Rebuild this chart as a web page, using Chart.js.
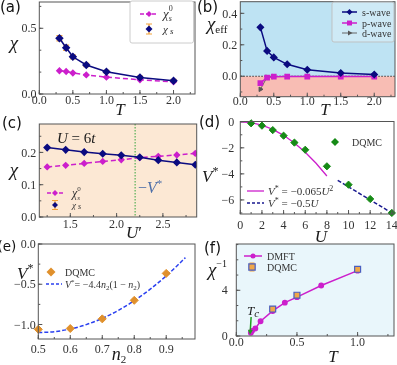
<!DOCTYPE html>
<html><head><meta charset="utf-8">
<script src="https://cdn.jsdelivr.net/npm/chart.js@4.4.1/dist/chart.umd.min.js"></script>
<style>
html,body{margin:0;padding:0;background:#fff;}
body{width:397px;height:365px;position:relative;overflow:hidden;}
canvas{position:absolute;left:0;top:0;width:397px;height:365px;}
</style></head><body>
<canvas id="pa" width="397" height="365"></canvas>
<canvas id="pb" width="397" height="365"></canvas>
<canvas id="pc" width="397" height="365"></canvas>
<canvas id="pd" width="397" height="365"></canvas>
<canvas id="pe" width="397" height="365"></canvas>
<canvas id="pf" width="397" height="365"></canvas>
<canvas id="ov" width="397" height="365"></canvas>
<script>
// ---------------- data ----------------
// (a)
const T_A = [0.3, 0.4, 0.5, 0.7, 1.0, 1.5, 2.0];
const CHI_S_A = [0.424, 0.352, 0.283, 0.221, 0.170, 0.126, 0.101];
const CHI_S_ERR_A = [0.02, 0.02, 0.015, 0.012, 0.01, 0.01, 0.01];
const CHI_S0_A = [0.177, 0.171, 0.160, 0.145, 0.128, 0.108, 0.093];
const X_TICKS_A = [0, 0.5, 1, 1.5, 2];
const Y_TICKS_A = [0, 0.5];
// (b)
const T_B = [0.3, 0.4, 0.5, 0.7, 1.0, 1.5, 2.0];
const S_WAVE_B = [0.311, 0.161, 0.120, 0.076, 0.041, 0.021, 0.011];
const P_WAVE_B = [-0.044, -0.008, -0.003, -0.002, -0.002, -0.002, -0.002];
const D_WAVE_B = [-0.083, -0.006, -0.002, -0.001, -0.001, -0.001, -0.001];
const X_TICKS_B = [0, 0.5, 1, 1.5, 2];
const Y_TICKS_B = [0, 0.2, 0.4];
// (c)
const UP_C = [1.25, 1.45, 1.65, 1.85, 2.05, 2.25, 2.45, 2.65, 2.85];
const CHI_S_C = [0.215, 0.208, 0.201, 0.196, 0.191, 0.185, 0.176, 0.169, 0.162];
const CHI_S0_C = [0.155, 0.160, 0.166, 0.172, 0.177, 0.184, 0.188, 0.192, 0.197];
const UP_MARK_C = 2.2;
const X_TICKS_C = [1.5, 2.0, 2.5];
const Y_TICKS_C = [0, 0.1, 0.2];
// (d)
const U_D = [1, 2, 3, 4, 5, 6, 8, 10, 12, 14];
const V_D = [-0.12, -0.30, -0.64, -1.07, -1.60, -2.15, -3.42, -4.83, -5.93, -7.0];
const U_FITQ_D = [0, 1, 2, 3, 4, 5, 6, 7, 8];
const V_FITQ_D = [0, -0.065, -0.26, -0.585, -1.04, -1.625, -2.34, -3.185, -4.16];
const U_FITL_D = [9, 14];
const V_FITL_D = [-4.5, -7.0];
const X_TICKS_D = [0, 2, 4, 6, 8, 10, 12, 14];
const Y_TICKS_D = [0, -2, -4, -6];
// (e)
const N2_E = [0.5, 0.6, 0.7, 0.8, 0.9];
const V_E = [-1.06, -1.05, -0.93, -0.70, -0.365];
const N2_FIT_E = [0.5, 0.55, 0.6, 0.65, 0.7, 0.75, 0.8, 0.85, 0.9, 0.93, 0.96];
const V_FIT_E = [-1.1, -1.089, -1.056, -1.001, -0.924, -0.825, -0.704, -0.561, -0.396, -0.286, -0.169];
const X_TICKS_E = [0.5, 0.6, 0.7, 0.8, 0.9];
const Y_TICKS_E = [0, -0.5, -1.0];
// (f)
const T_DMFT_F = [0.12, 0.13, 0.157, 0.2, 0.3, 0.4, 0.5, 0.7, 1.0];
const INV_DMFT_F = [0.29, 0.45, 0.66, 1.29, 2.19, 2.92, 3.40, 4.42, 5.72];
const T_DQMC_F = [0.3, 0.5, 1.0];
const INV_DQMC_F = [2.36, 3.57, 5.84];
const ERR_DQMC_F = [0.12, 0.12, 0.12];
const X_TICKS_F = [0, 0.5, 1.0];
const Y_TICKS_F = [0, 4];

// ---------------- style ----------------
const W = 397, H = 365, YW = 30, XH = 16;
const SERIF = "'Liberation Serif', 'DejaVu Serif', serif";
const NAVY = '#0b0b80', MAG = '#cc1fcc', ORANGE = '#f2a23a', GREEN = '#168a16';
const DQ_OR = '#e0902c', BLUE = '#2a40f0';
const minus = s => String(s).replace('-', '\u2212');
const xy = (xs, ys) => xs.map((x, i) => ({x, y: ys[i]}));
const OV = document.getElementById('ov').getContext('2d');
const PENDING = [];

function rich(ctx, x, y, parts, align, color) {
  let w = 0;
  const fm = parts.map(p => {
    const f = (p[2] ? 'italic ' : '') + p[1] + 'px ' + (p[5] || SERIF);
    ctx.font = f;
    const m = ctx.measureText(p[0]).width;
    if (!p[4]) w += m;
    return [f, m];
  });
  let cx = align === 'center' ? x - w / 2 : align === 'right' ? x - w : x;
  ctx.textAlign = 'left'; ctx.textBaseline = 'alphabetic';
  ctx.fillStyle = color || '#1a1a1a';
  parts.forEach((p, i) => {
    ctx.font = fm[i][0];
    ctx.fillText(p[0], cx, y + (p[3] || 0));
    if (!p[4]) cx += fm[i][1];
  });
}
function marker(ctx, m, x, y) {
  const r = m.r;
  ctx.beginPath();
  if (m.style === 'rectRot') { ctx.moveTo(x, y - r); ctx.lineTo(x + r, y); ctx.lineTo(x, y + r); ctx.lineTo(x - r, y); ctx.closePath(); }
  else if (m.style === 'rect') { const s = r * Math.SQRT1_2; ctx.rect(x - s, y - s, 2 * s, 2 * s); }
  else if (m.style === 'circle') { ctx.arc(x, y, r, 0, Math.PI * 2); }
  else if (m.style === 'tri') { ctx.moveTo(x + r, y); ctx.lineTo(x - r * 0.5, y - r * 0.87); ctx.lineTo(x - r * 0.5, y + r * 0.87); ctx.closePath(); }
  ctx.fillStyle = m.fill; ctx.fill();
  if (m.stroke) { ctx.strokeStyle = m.stroke; ctx.lineWidth = m.bw || 1; ctx.stroke(); }
}
function errbar(ctx, x, y1, y2, cap, color) {
  ctx.strokeStyle = color; ctx.lineWidth = 1.2; ctx.setLineDash([]);
  ctx.beginPath();
  ctx.moveTo(x, y1); ctx.lineTo(x, y2);
  ctx.moveTo(x - cap, y1); ctx.lineTo(x + cap, y1);
  ctx.moveTo(x - cap, y2); ctx.lineTo(x + cap, y2);
  ctx.stroke();
}

const decoPlugin = {
  id: 'deco',
  beforeDatasetsDraw(chart, args, o) {
    const {ctx, chartArea: a} = chart, sx = chart.scales.x, sy = chart.scales.y;
    ctx.save();
    if (o.bg) { ctx.fillStyle = o.bg; ctx.fillRect(a.left, a.top, a.width, a.height); }
    (o.bands || []).forEach(b => {
      const y1 = Math.max(a.top, Math.min(a.bottom, sy.getPixelForValue(b.to)));
      const y2 = Math.max(a.top, Math.min(a.bottom, sy.getPixelForValue(b.from)));
      ctx.fillStyle = b.color; ctx.fillRect(a.left, y1, a.width, y2 - y1);
    });
    (o.hlines || []).forEach(h => {
      const y = sy.getPixelForValue(h.v);
      ctx.strokeStyle = h.color; ctx.lineWidth = h.w; ctx.setLineDash(h.dash || []);
      ctx.beginPath(); ctx.moveTo(a.left, y); ctx.lineTo(a.right, y); ctx.stroke();
    });
    (o.vlines || []).forEach(h => {
      const x = sx.getPixelForValue(h.v);
      ctx.strokeStyle = h.color; ctx.lineWidth = h.w; ctx.setLineDash(h.dash || []);
      ctx.beginPath(); ctx.moveTo(x, a.top); ctx.lineTo(x, a.bottom); ctx.stroke();
    });
    ctx.setLineDash([]);
    chart.data.datasets.forEach((ds, i) => {
      if (!ds.err) return;
      const meta = chart.getDatasetMeta(i);
      meta.data.forEach((pt, j) => {
        const v = ds.data[j].y, e = ds.err[j];
        errbar(ctx, pt.x, sy.getPixelForValue(v + e), sy.getPixelForValue(v - e), ds.cap || 3, ds.errColor);
      });
    });
    ctx.restore();
  },
  afterDatasetsDraw(chart, args, o) {
    const {ctx, chartArea: a} = chart, sx = chart.scales.x, sy = chart.scales.y;
    ctx.save();
    ctx.setLineDash([]);
    ctx.strokeStyle = '#555'; ctx.lineWidth = 1;
    ctx.strokeRect(a.left, a.top, a.width, a.height);
    ctx.beginPath();
    sx.ticks.forEach(t => { const x = sx.getPixelForValue(t.value); ctx.moveTo(x, a.bottom); ctx.lineTo(x, a.bottom - 4); });
    sy.ticks.forEach(t => { const y = sy.getPixelForValue(t.value); ctx.moveTo(a.left, y); ctx.lineTo(a.left + 4, y); });
    if (o.mx) for (let v = Math.ceil(sx.min / o.mx) * o.mx; v <= sx.max; v += o.mx) { const x = sx.getPixelForValue(v); ctx.moveTo(x, a.bottom); ctx.lineTo(x, a.bottom - 2); }
    if (o.my) for (let v = Math.ceil(sy.min / o.my) * o.my; v <= sy.max; v += o.my) { const y = sy.getPixelForValue(v); ctx.moveTo(a.left, y); ctx.lineTo(a.left + 2, y); }
    ctx.stroke();
    if (o.box) {
      const b = o.box;
      ctx.fillStyle = b.fill; ctx.strokeStyle = b.stroke; ctx.lineWidth = 1;
      ctx.beginPath();
      if (ctx.roundRect) ctx.roundRect(b.x, b.y, b.w, b.h, 2); else ctx.rect(b.x, b.y, b.w, b.h);
      ctx.fill(); ctx.stroke();
    }
    (o.items || []).forEach(it => {
      if (it.x1 !== undefined) {
        ctx.strokeStyle = it.color; ctx.lineWidth = it.width || 1.5; ctx.setLineDash(it.dash || []);
        ctx.beginPath(); ctx.moveTo(it.x1, it.y); ctx.lineTo(it.x2, it.y); ctx.stroke();
        ctx.setLineDash([]);
      }
      const mx = it.x1 !== undefined ? (it.x1 + it.x2) / 2 : it.x;
      if (it.err) errbar(ctx, mx, it.y - it.err.len, it.y + it.err.len, it.err.cap, it.err.color);
      if (it.m) marker(ctx, it.m, mx, it.y);
      if (it.text) rich(ctx, it.text.x, it.text.y, it.text.parts, 'left', it.text.color || '#333');
    });
    (o.arrows || []).forEach(ar => {
      const x1 = sx.getPixelForValue(ar.from[0]), y1 = sy.getPixelForValue(ar.from[1]);
      const x2 = sx.getPixelForValue(ar.to[0]), y2 = sy.getPixelForValue(ar.to[1]);
      const ang = Math.atan2(y2 - y1, x2 - x1), hl = 5;
      ctx.strokeStyle = ar.color; ctx.fillStyle = ar.color; ctx.lineWidth = 1.5;
      ctx.beginPath(); ctx.moveTo(x1, y1); ctx.lineTo(x2 - hl * Math.cos(ang), y2 - hl * Math.sin(ang)); ctx.stroke();
      ctx.beginPath(); ctx.moveTo(x2, y2);
      ctx.lineTo(x2 - hl * Math.cos(ang) + 2.5 * Math.sin(ang), y2 - hl * Math.sin(ang) - 2.5 * Math.cos(ang));
      ctx.lineTo(x2 - hl * Math.cos(ang) - 2.5 * Math.sin(ang), y2 - hl * Math.sin(ang) + 2.5 * Math.cos(ang));
      ctx.closePath(); ctx.fill();
    });
    ctx.restore();
  }
};

function axis(s, dir) {
  return {
    type: 'linear', min: s.min, max: s.max,
    grid: {display: false, drawTicks: false},
    border: {display: false},
    ticks: {display: false, autoSkip: false},
    afterBuildTicks: sc => { sc.ticks = s.ticks.map(v => ({value: v})); },
    afterFit: sc => {
      if (dir === 'x') sc.height = XH; else sc.width = YW;
      sc.paddingLeft = 0; sc.paddingRight = 0; sc.paddingTop = 0; sc.paddingBottom = 0;
    }
  };
}
// tick labels and axis texts: drawn on the top overlay from each chart's own scales
function finish(chart, xs, ys, texts) {
  const a = chart.chartArea, sx = chart.scales.x, sy = chart.scales.y;
  OV.save();
  OV.fillStyle = '#333'; OV.font = '12px ' + SERIF; OV.textBaseline = 'alphabetic';
  OV.textAlign = 'center';
  sx.ticks.forEach(t => OV.fillText(xs.fmt(t.value), sx.getPixelForValue(t.value), xs.lab));
  OV.textAlign = 'right';
  sy.ticks.forEach(t => OV.fillText(ys.fmt(t.value), a.left - ys.gap, sy.getPixelForValue(t.value) + 4.2));
  texts.forEach(t => rich(OV, t.x, t.y, t.parts, t.align, t.color));
  OV.restore();
}
function panel(id, area, xs, ys, datasets, deco, texts) {
  const ch = new Chart(document.getElementById(id), {
    type: 'scatter',
    data: {datasets},
    options: {
      responsive: false, animation: false, devicePixelRatio: 1,
      layout: {autoPadding: false, padding: {left: area.l - YW, top: area.t, right: W - area.r, bottom: H - area.b - XH}},
      plugins: {legend: {display: false}, tooltip: {enabled: false}, deco},
      scales: {x: axis(xs, 'x'), y: axis(ys, 'y')},
      elements: {line: {tension: 0}, point: {borderWidth: 1}}
    },
    plugins: [decoPlugin]
  });
  PENDING.push([ch, xs, ys, texts]);
  return ch;
}
const f1 = v => minus(v.toFixed(1));
const f0 = v => minus(String(v));
const lbl = (s, x, y, size) => ({x, y, parts: [[s, size || 15, false, 0, false, "'DejaVu Sans', sans-serif"]], color: '#111'});

// ---------------- (a) ----------------
panel('pa', {l: 39.3, t: 2, r: 195, b: 94},
  {min: 0, max: 2.32, ticks: X_TICKS_A, fmt: f1, lab: 104},
  {min: 0, max: 0.70, ticks: Y_TICKS_A, fmt: f1, gap: 2.8},
  [
    {data: xy(T_A, CHI_S_A), showLine: true, borderColor: NAVY, borderWidth: 1.5, pointStyle: 'rectRot', pointRadius: 3.2,
     pointBackgroundColor: NAVY, pointBorderColor: NAVY, err: CHI_S_ERR_A, errColor: ORANGE, cap: 3},
    {data: xy(T_A, CHI_S0_A), showLine: true, borderColor: MAG, borderWidth: 1.5, borderDash: [5, 3], pointStyle: 'rectRot', pointRadius: 2.6,
     pointBackgroundColor: MAG, pointBorderColor: MAG}
  ],
  {mx: 0.25, my: 0.5 / 3,
   box: {x: 130, y: 1, w: 63.5, h: 42, fill: '#fff', stroke: '#ccc'},
   items: [
     {x1: 140, x2: 158, y: 14, color: MAG, width: 1.5, dash: [4, 2], m: {style: 'rectRot', r: 3, fill: MAG},
      text: {x: 163, y: 18, parts: [['χ', 13, true], ['0', 8, false, -7, true], ['s', 8, true, 3]]}},
     {x: 149, y: 29, m: {style: 'rectRot', r: 3.5, fill: NAVY}, err: {len: 5, cap: 3, color: ORANGE},
      text: {x: 163, y: 33, parts: [['χ', 11, true], [' s', 9, true, 1]]}}
   ]},
  [
    lbl('(a)', 0, 12),
    {x: 14, y: 49, align: 'center', parts: [['χ', 19, true]]},
    {x: 120, y: 115, align: 'center', parts: [['T', 17, true]]}
  ]);

// ---------------- (b) ----------------
panel('pb', {l: 240.3, t: 1.7, r: 395, b: 96.7},
  {min: 0, max: 2.31, ticks: X_TICKS_B, fmt: f1, lab: 104.5},
  {min: -0.13, max: 0.474, ticks: Y_TICKS_B, fmt: f1, gap: 3},
  [
    {data: xy(T_B, S_WAVE_B), showLine: true, borderColor: NAVY, borderWidth: 1.5, pointStyle: 'rectRot', pointRadius: 3,
     pointBackgroundColor: NAVY, pointBorderColor: NAVY},
    {data: xy(T_B, P_WAVE_B), showLine: true, borderColor: MAG, borderWidth: 1.5, pointStyle: 'rect', pointRadius: 3,
     pointBackgroundColor: MAG, pointBorderColor: MAG},
    {data: xy(T_B, D_WAVE_B), showLine: true, borderColor: '#666', borderWidth: 1, pointStyle: 'triangle', rotation: 90, pointRadius: 2.6,
     pointBackgroundColor: '#555', pointBorderColor: '#555'}
  ],
  {mx: 0.25, my: 0.1,
   bands: [{from: 0, to: 1, color: '#bee3f3'}, {from: -1, to: 0, color: '#f8bdb4'}],
   hlines: [{v: 0, color: '#333', w: 1, dash: [1.5, 1.5]}],
   box: {x: 332, y: 2, w: 62, h: 40, fill: 'rgba(255,255,255,0.25)', stroke: 'rgba(190,190,190,0.9)'},
   items: [
     {x1: 342, x2: 357, y: 12, color: NAVY, width: 1.5, m: {style: 'rectRot', r: 3, fill: NAVY}, text: {x: 362, y: 15.5, parts: [['s-wave', 10, false]]}},
     {x1: 342, x2: 357, y: 23, color: MAG, width: 1.5, m: {style: 'rect', r: 3.5, fill: MAG}, text: {x: 362, y: 26.5, parts: [['p-wave', 10, false]]}},
     {x1: 342, x2: 357, y: 33, color: '#666', width: 1, m: {style: 'tri', r: 3, fill: '#555'}, text: {x: 362, y: 36.5, parts: [['d-wave', 10, false]]}}
   ]},
  [
    lbl('(b)', 197, 12),
    {x: 207, y: 30, parts: [['χ', 19, true], ['eff', 11, false, 3]]},
    {x: 325, y: 115, align: 'center', parts: [['T', 17, true]]}
  ]);

// ---------------- (c) ----------------
panel('pc', {l: 39.3, t: 124, r: 196.7, b: 217},
  {min: 1.165, max: 2.865, ticks: X_TICKS_C, fmt: f1, lab: 227.5},
  {min: 0, max: 0.288, ticks: Y_TICKS_C, fmt: f1, gap: 3},
  [
    {data: xy(UP_C, CHI_S_C), showLine: true, borderColor: NAVY, borderWidth: 1.5, pointStyle: 'rectRot', pointRadius: 3,
     pointBackgroundColor: NAVY, pointBorderColor: NAVY},
    {data: xy(UP_C, CHI_S0_C), showLine: true, borderColor: MAG, borderWidth: 1.5, borderDash: [5, 3], pointStyle: 'rectRot', pointRadius: 2.6,
     pointBackgroundColor: MAG, pointBorderColor: MAG}
  ],
  {mx: 0.25, my: 0.05,
   bg: '#fce8d4',
   vlines: [{v: UP_MARK_C, color: '#55b055', w: 1.2, dash: [1.5, 1.5]}],
   items: [
     {x1: 47, x2: 63, y: 193, color: MAG, width: 1.5, dash: [4, 2], m: {style: 'rectRot', r: 3, fill: MAG},
      text: {x: 72, y: 197, parts: [['χ', 12, true], ['0', 7, false, -6, true], ['s', 7, true, 3]]}},
     {x: 55, y: 205, m: {style: 'rectRot', r: 3, fill: NAVY}, err: {len: 4.5, cap: 3, color: ORANGE},
      text: {x: 72, y: 208, parts: [['χ', 9, true], [' s', 8, true, 1]]}}
   ]},
  [
    lbl('(c)', 2, 128),
    {x: 14, y: 176, align: 'center', parts: [['χ', 19, true]]},
    {x: 134, y: 238, align: 'center', parts: [['U', 17, true], ['′', 17, false]]},
    {x: 57, y: 143, parts: [['U', 15, true], [' = 6', 15, false], ['t', 15, true]]},
    {x: 138, y: 193, color: '#4e6fa8', parts: [['−', 16, false], ['V', 16, true], ['*', 11, false, -6]]}
  ]);

// ---------------- (d) ----------------
panel('pd', {l: 240.3, t: 121.5, r: 394, b: 214},
  {min: 0, max: 14.2, ticks: X_TICKS_D, fmt: f0, lab: 229},
  {min: -7.08, max: 0.02, ticks: Y_TICKS_D, fmt: f0, gap: 6},
  [
    {data: xy(U_D, V_D), showLine: false, pointStyle: 'rectRot', pointRadius: 3.6, pointBackgroundColor: GREEN, pointBorderColor: GREEN, clip: false},
    {data: xy(U_FITQ_D, V_FITQ_D), showLine: true, borderColor: MAG, borderWidth: 1.3, pointRadius: 0},
    {data: xy(U_FITL_D, V_FITL_D), showLine: true, borderColor: '#1a1a90', borderWidth: 1.5, borderDash: [4, 2], pointRadius: 0}
  ],
  {mx: 1, my: 1,
   items: [
     {x: 335, y: 142, m: {style: 'rectRot', r: 4, fill: GREEN}, text: {x: 352, y: 146, parts: [['DQMC', 10, false]]}},
     {x1: 247, x2: 264, y: 191, color: MAG, width: 1.3,
      text: {x: 268, y: 195, parts: [['V', 11, true], ['*', 8, false, -4], [' = −0.065', 11, false], ['U', 11, true], ['2', 8, false, -4]]}},
     {x1: 247, x2: 264, y: 203, color: '#1a1a90', width: 1.5, dash: [3, 2],
      text: {x: 268, y: 207, parts: [['V', 11, true], ['*', 8, false, -4], [' = −0.5', 11, false], ['U', 11, true]]}}
   ]},
  [
    lbl('(d)', 199, 127),
    {x: 202, y: 182, parts: [['V', 17, true], ['*', 12, false, -7]]},
    {x: 321, y: 242, align: 'center', parts: [['U', 17, true]]}
  ]);

// ---------------- (e) ----------------
panel('pe', {l: 38.3, t: 244, r: 195, b: 339},
  {min: 0.5, max: 0.99, ticks: X_TICKS_E, fmt: f1, lab: 352.5},
  {min: -1.18, max: 0, ticks: Y_TICKS_E, fmt: f1, gap: 2.5},
  [
    {data: xy(N2_E, V_E), showLine: false, pointStyle: 'rectRot', pointRadius: 4, pointBackgroundColor: DQ_OR, pointBorderColor: DQ_OR, clip: false},
    {data: xy(N2_FIT_E, V_FIT_E), showLine: true, borderColor: BLUE, borderWidth: 1.5, borderDash: [4, 2], pointRadius: 0, cubicInterpolationMode: 'monotone'}
  ],
  {mx: 0.05, my: 0.25,
   items: [
     {x: 51, y: 272, m: {style: 'rectRot', r: 4.5, fill: DQ_OR}, text: {x: 65, y: 276, parts: [['DQMC', 10, false]]}},
     {x1: 46, x2: 62, y: 284, color: BLUE, width: 1.5, dash: [3, 2],
      text: {x: 65, y: 288, parts: [['V', 10, true], ['*', 7, false, -4], ['= −4.4', 10, false], ['n', 10, true], ['2', 7, false, 2], ['(1 − ', 10, false], ['n', 10, true], ['2', 7, false, 2], [')', 10, false]]}}
   ]},
  [
    lbl('(e)', -2.5, 251, 13.5),
    {x: 17, y: 279, parts: [['V', 17, true], ['*', 12, false, -7]]},
    {x: 119, y: 360, align: 'center', parts: [['n', 18, true], ['2', 11, false, 3]]}
  ]);

// ---------------- (f) ----------------
panel('pf', {l: 236.3, t: 244, r: 394, b: 336},
  {min: 0, max: 1.3, ticks: X_TICKS_F, fmt: f1, lab: 346},
  {min: 0, max: 8.05, ticks: Y_TICKS_F, fmt: f0, gap: 8.5},
  [
    {data: xy(T_DQMC_F, INV_DQMC_F), showLine: false, pointStyle: 'rect', pointRadius: 4.2, pointBackgroundColor: '#f0a848',
     pointBorderColor: '#4a5fc0', pointBorderWidth: 1.2, err: ERR_DQMC_F, errColor: ORANGE, cap: 3},
    {data: xy(T_DMFT_F, INV_DMFT_F), showLine: true, borderColor: MAG, borderWidth: 1.5, pointStyle: 'circle', pointRadius: 2.2,
     pointBackgroundColor: MAG, pointBorderColor: MAG}
  ],
  {mx: 0.25, my: 4 / 3,
   bg: '#e9f6fb',
   arrows: [{from: [0.122, 1.66], to: [0.113, 0.1], color: '#1fa01f'}],
   items: [
     {x1: 244, x2: 262, y: 256, color: MAG, width: 1.5, m: {style: 'circle', r: 2.5, fill: MAG}, text: {x: 267, y: 260, parts: [['DMFT', 10, false]]}},
     {x: 252, y: 267, m: {style: 'rect', r: 4.5, fill: '#f0a848', stroke: '#4a5fc0', bw: 1.2}, err: {len: 4, cap: 2.5, color: ORANGE},
      text: {x: 267, y: 271, parts: [['DQMC', 10, false]]}}
   ]},
  [
    lbl('(f)', 204, 253),
    {x: 208, y: 276, parts: [['χ', 19, true], ['−1', 10, false, -9]]},
    {x: 333, y: 362, align: 'center', parts: [['T', 17, true]]},
    {x: 247, y: 315, parts: [['T', 13, true], ['c', 11, true, 2]]}
  ]);

PENDING.forEach(p => finish(p[0], p[1], p[2], p[3]));
</script>
</body></html>
